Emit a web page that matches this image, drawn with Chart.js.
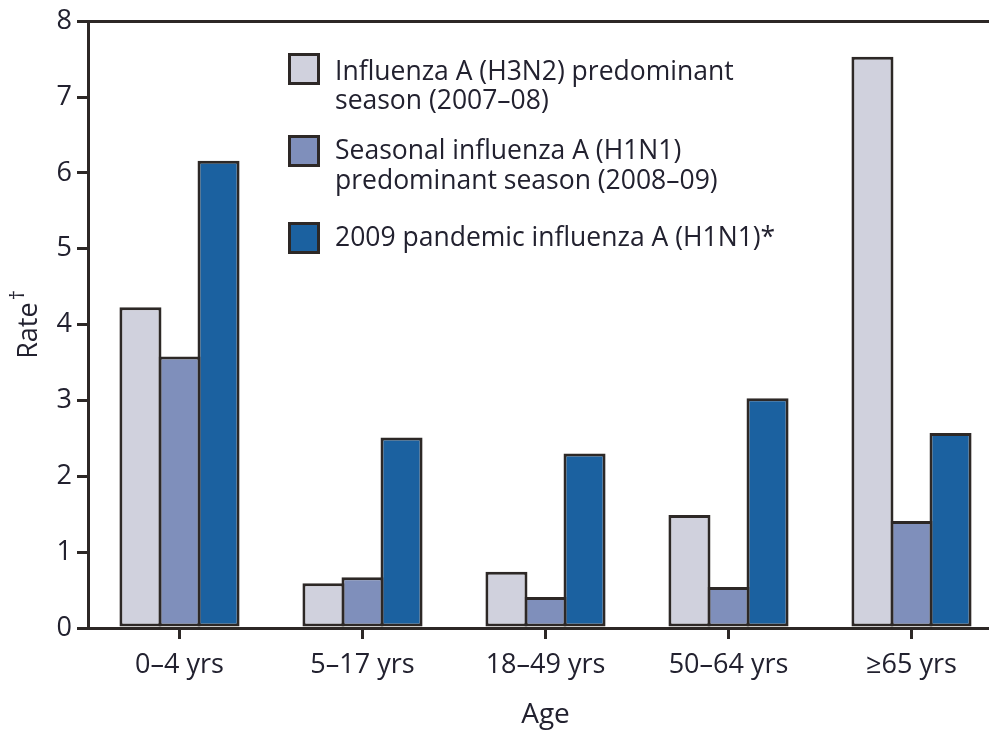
<!DOCTYPE html>
<html>
<head>
<meta charset="utf-8">
<script src="https://cdn.jsdelivr.net/npm/chart.js@4"></script>
<style>
  html, body { margin: 0; padding: 0; background: #fff; overflow: hidden; }
  #wrap { width: 1010px; height: 736px; }
</style>
</head>
<body>
<div id="wrap"><canvas id="grafico"></canvas></div>
<script>
// data
const ageGroups = ["0\u20134 yrs", "5\u201317 yrs", "18\u201349 yrs", "50\u201364 yrs", "\u226565 yrs"];
const h3n2_0708 = [4.23, 0.59, 0.74, 1.49, 7.53];
const h1n1_0809 = [3.58, 0.67, 0.41, 0.54, 1.41];
const pandemic2009 = [6.16, 2.51, 2.30, 3.03, 2.57];
const seriesLabels = [
  ["Influenza A (H3N2) predominant", "season (2007\u201308)"],
  ["Seasonal influenza A (H1N1)", "predominant season (2008\u201309)"],
  ["2009 pandemic influenza A (H1N1)*"]
];
const seriesColors = ['#d0d1dd', '#7f8fbb', '#1b61a0'];

const ink = '#2d2826';
const textInk = '#22212f';
const fam = "'Open Sans', sans-serif";

// legend drawn by hand (labels run over two lines), plus the y title with its raised dagger
const extras = {
  id: 'extras',
  afterDraw(chart) {
    const ctx = chart.ctx;
    const items = [
      { box: 53, lines: [72, 101] },
      { box: 135, lines: [151, 181] },
      { box: 222, lines: [238] }
    ];
    ctx.save();
    ctx.textBaseline = 'middle';
    items.forEach((it, i) => {
      ctx.fillStyle = seriesColors[i];
      ctx.fillRect(288, it.box, 32, 32);
      ctx.lineWidth = 3;
      ctx.strokeStyle = ink;
      ctx.strokeRect(289.5, it.box + 1.5, 29, 29);
      ctx.fillStyle = textInk;
      ctx.font = "26.5px " + fam;
      seriesLabels[i].forEach((t, j) => ctx.fillText(t, 335, it.lines[j]));
    });

    // y title
    const a = chart.chartArea;
    ctx.translate(29, (a.top + a.bottom) / 2);
    ctx.rotate(-Math.PI / 2);
    ctx.font = "27px " + fam;
    const w = ctx.measureText("Rate").width;
    ctx.textAlign = 'left';
    ctx.fillText("Rate", -w / 2 - 6, 0);
    ctx.font = "20px " + fam;
    ctx.fillText("\u2020", w / 2 - 4, -11);
    ctx.restore();
  }
};

const barStyle = {
  borderColor: ink,
  borderWidth: 3,
  borderSkipped: false,
  categoryPercentage: 0.64,
  barPercentage: 1.077
};

new Chart(document.getElementById("grafico"), {
  type: "bar",
  data: {
    labels: ageGroups,
    datasets: [
      Object.assign({ label: seriesLabels[0].join(' '), data: h3n2_0708, backgroundColor: seriesColors[0] }, barStyle),
      Object.assign({ label: seriesLabels[1].join(' '), data: h1n1_0809, backgroundColor: seriesColors[1] }, barStyle),
      Object.assign({ label: seriesLabels[2].join(' '), data: pandemic2009, backgroundColor: seriesColors[2] }, barStyle)
    ]
  },
  options: {
    responsive: true,
    maintainAspectRatio: false,
    animation: false,
    layout: { padding: { top: 20, right: 7, bottom: 0, left: 0 } },
    scales: {
      x: {
        afterFit(scale) { scale.height = 108; },
        grid: {
          offset: false,
          drawOnChartArea: false,
          tickLength: 11,
          tickWidth: 3,
          tickColor: ink
        },
        border: { color: ink, width: 3 },
        ticks: {
          padding: 10,
          color: textInk,
          font: { family: fam, size: 27 }
        },
        title: {
          display: true,
          text: "Age",
          color: textInk,
          font: { family: fam, size: 28 },
          padding: { top: 0, bottom: 4 }
        }
      },
      y: {
        min: 0,
        max: 8,
        afterFit(scale) { scale.width = 88; },
        grid: {
          color: c => (c.tick && c.tick.value === 8) ? ink : 'rgba(0,0,0,0)',
          lineWidth: 3,
          tickLength: 11,
          tickWidth: 3,
          tickColor: ink
        },
        border: { color: ink, width: 3 },
        ticks: {
          stepSize: 1,
          padding: 5,
          color: textInk,
          font: { family: fam, size: 27 }
        },
        title: { display: false }
      }
    },
    plugins: {
      legend: { display: false },
      tooltip: { enabled: false }
    }
  },
  plugins: [extras]
});
</script>
</body>
</html>
